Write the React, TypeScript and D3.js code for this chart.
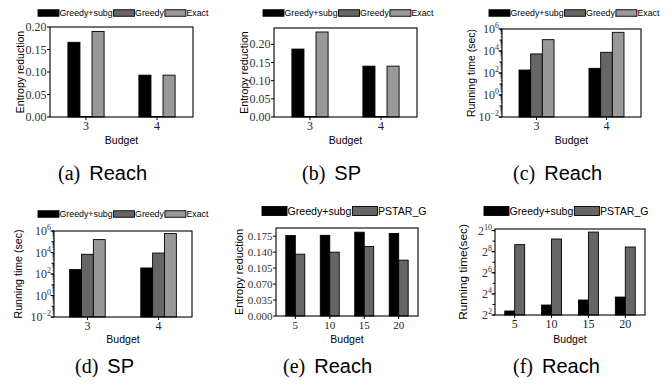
import React, { useEffect, useRef } from 'react';
import * as d3 from 'd3';

// categories
const budgetsSmall = ['3', '4'];
const budgetsLarge = ['5', '10', '15', '20'];

// (a) Reach - entropy reduction
const reachEntGreedySubg = [0.166, 0.093];
const reachEntGreedy = [0, 0];
const reachEntExact = [0.19, 0.093];

// (b) SP - entropy reduction
const spEntGreedySubg = [0.187, 0.14];
const spEntGreedy = [0, 0];
const spEntExact = [0.234, 0.14];

// (c) Reach - running time (sec)
const reachTimeGreedySubg = [186, 265];
const reachTimeGreedy = [5400, 7600];
const reachTimeExact = [107000, 500000];

// (d) SP - running time (sec)
const spTimeGreedySubg = [257, 363];
const spTimeGreedy = [6800, 8900];
const spTimeExact = [158000, 575000];

// (e) Reach - entropy reduction vs PSTAR_G
const pstarEntGreedySubg = [0.1766, 0.177, 0.1838, 0.181];
const pstarEntPstar = [0.1356, 0.14, 0.1525, 0.1225];

// (f) Reach - running time vs PSTAR_G
const pstarTimeGreedySubg = [5.2, 7.7, 10.7, 13];
const pstarTimePstar = [407, 588, 929, 348];

const names3 = ['Greedy+subg', 'Greedy', 'Exact'];
const names2 = ['Greedy+subg', 'PSTAR_G'];
const colors3 = ['#000000', '#666666', '#999999'];
const colors2 = ['#000000', '#666666'];

const linTicksTop = [0, 0.05, 0.1, 0.15, 0.2];
const linTicksE = [0, 0.035, 0.07, 0.105, 0.14, 0.175];
const logTicks10 = [-2, 0, 2, 4, 6];
const logTicks2 = [2, 4, 6, 8, 10];

const SANS = '"Liberation Sans", Arial, sans-serif';
const SERIF = '"Liberation Serif", "Times New Roman", serif';

type Panel = {
  box: [number, number, number, number];
  cats: string[];
  series: number[][];
  names: string[];
  colors: string[];
  yType: 'linear' | 'log10' | 'log2';
  yDomain: [number, number];
  yTicks: number[];
  yFmt?: string;
  ylabel: string;
  ylabelX: number;
  ylabelFs: number;
  tickFs: number;
  pad: number;
  groupFrac: number;
  legend: { x: number; y: number; w: number; h: number; fs: number };
  caption: { x: number; y: number; tag: string; name: string };
  budgetDy: number;
};

const panels: Panel[] = [
  {
    box: [50, 27, 193, 117], cats: budgetsSmall,
    series: [reachEntGreedySubg, reachEntGreedy, reachEntExact], names: names3, colors: colors3,
    yType: 'linear', yDomain: [0, 0.2], yTicks: linTicksTop, yFmt: '.2f',
    ylabel: 'Entropy reduction', ylabelX: 20, ylabelFs: 10.5, tickFs: 12,
    pad: 0.507, groupFrac: 0.51,
    legend: { x: 38, y: 13, w: 21, h: 6.5, fs: 8.8 },
    caption: { x: 58, y: 180, tag: '(a)', name: 'Reach' }, budgetDy: 27,
  },
  {
    box: [274, 28, 417, 117], cats: budgetsSmall,
    series: [spEntGreedySubg, spEntGreedy, spEntExact], names: names3, colors: colors3,
    yType: 'linear', yDomain: [0, 0.245], yTicks: linTicksTop, yFmt: '.2f',
    ylabel: 'Entropy reduction', ylabelX: 244, ylabelFs: 10.5, tickFs: 12,
    pad: 0.507, groupFrac: 0.51,
    legend: { x: 263, y: 13, w: 21, h: 6.5, fs: 8.8 },
    caption: { x: 302, y: 180, tag: '(b)', name: 'SP' }, budgetDy: 27,
  },
  {
    box: [502, 29, 641, 117], cats: budgetsSmall,
    series: [reachTimeGreedySubg, reachTimeGreedy, reachTimeExact], names: names3, colors: colors3,
    yType: 'log10', yDomain: [1e-2, 1e6], yTicks: logTicks10,
    ylabel: 'Running time (sec)', ylabelX: 471, ylabelFs: 10.5, tickFs: 12,
    pad: 0.493, groupFrac: 0.5,
    legend: { x: 489, y: 13, w: 21, h: 6.5, fs: 8.8 },
    caption: { x: 513, y: 180, tag: '(c)', name: 'Reach' }, budgetDy: 27,
  },
  {
    box: [54, 231, 192, 317], cats: budgetsSmall,
    series: [spTimeGreedySubg, spTimeGreedy, spTimeExact], names: names3, colors: colors3,
    yType: 'log10', yDomain: [1e-2, 1e6], yTicks: logTicks10,
    ylabel: 'Running time (sec)', ylabelX: 18, ylabelFs: 10.6, tickFs: 12,
    pad: 0.47, groupFrac: 0.5,
    legend: { x: 38, y: 214, w: 21, h: 6.5, fs: 8.8 },
    caption: { x: 75, y: 373, tag: '(d)', name: 'SP' }, budgetDy: 26,
  },
  {
    box: [276, 228, 418, 316], cats: budgetsLarge,
    series: [pstarEntGreedySubg, pstarEntPstar], names: names2, colors: colors2,
    yType: 'linear', yDomain: [0, 0.193], yTicks: linTicksE, yFmt: '.3f',
    ylabel: 'Entropy reduction', ylabelX: 239, ylabelFs: 11, tickFs: 11,
    pad: 0.56, groupFrac: 0.55,
    legend: { x: 262, y: 211, w: 25, h: 9, fs: 10.6 },
    caption: { x: 283, y: 373, tag: '(e)', name: 'Reach' }, budgetDy: 27,
  },
  {
    box: [495, 229, 645, 315], cats: budgetsLarge,
    series: [pstarTimeGreedySubg, pstarTimePstar], names: names2, colors: colors2,
    yType: 'log2', yDomain: [4, Math.pow(2, 10.15)], yTicks: logTicks2,
    ylabel: 'Running time(sec)', ylabelX: 463, ylabelFs: 11.8, tickFs: 12,
    pad: 0.535, groupFrac: 0.54,
    legend: { x: 484, y: 211, w: 25, h: 9, fs: 10.6 },
    caption: { x: 513, y: 373, tag: '(f)', name: 'Reach' }, budgetDy: 28,
  },
];

function drawPanel(root: d3.Selection<SVGSVGElement, unknown, null, undefined>, p: Panel) {
  const g = root.append('g');
  const [x0, y0, x1, y1] = p.box;

  const x = d3.scalePoint<string>().domain(p.cats).range([x0, x1]).padding(p.pad);
  const y: any = p.yType === 'linear'
    ? d3.scaleLinear().domain(p.yDomain).range([y1, y0])
    : d3.scaleLog().base(p.yType === 'log2' ? 2 : 10).domain(p.yDomain).range([y1, y0]);

  const step = x.step();
  const groupW = step * p.groupFrac;
  const bw = groupW / p.series.length;

  // bars
  p.series.forEach((vals, si) => {
    g.append('g')
      .selectAll('rect')
      .data(vals)
      .enter()
      .append('rect')
      .attr('x', (_d, i) => x(p.cats[i])! - groupW / 2 + si * bw)
      .attr('y', d => (d > 0 ? y(d) : y1 - 0.5))
      .attr('width', bw)
      .attr('height', d => (d > 0 ? y1 - y(d) : 0.5))
      .attr('fill', p.colors[si])
      .attr('stroke', '#000')
      .attr('stroke-width', 0.9);
  });

  // frame
  g.append('rect')
    .attr('x', x0).attr('y', y0)
    .attr('width', x1 - x0).attr('height', y1 - y0)
    .attr('fill', 'none').attr('stroke', '#000').attr('stroke-width', 1.1);

  // y ticks
  const yt = g.append('g');
  if (p.yType === 'linear') {
    const fmt = d3.format(p.yFmt!);
    p.yTicks.forEach(t => {
      const yy = y(t);
      yt.append('line').attr('x1', x0 - 3).attr('x2', x0).attr('y1', yy).attr('y2', yy).attr('stroke', '#000');
      yt.append('text').attr('x', x0 - 3.5).attr('y', yy + 4)
        .attr('text-anchor', 'end').attr('font-family', SERIF).attr('font-size', p.tickFs).attr('fill', '#333')
        .text(fmt(t));
    });
  } else {
    const base = p.yType === 'log2' ? 2 : 10;
    const [lo, hi] = [Math.log(p.yDomain[0]) / Math.log(base), Math.log(p.yDomain[1]) / Math.log(base)];
    // minor ticks
    for (let e = Math.floor(lo); e <= Math.ceil(hi); e++) {
      const v = Math.pow(base, e);
      if (v >= p.yDomain[0] && v <= p.yDomain[1] * 1.0001) {
        yt.append('line').attr('x1', x0 - 2.5).attr('x2', x0).attr('y1', y(v)).attr('y2', y(v)).attr('stroke', '#000');
      }
      if (base === 10) {
        for (let m = 2; m < 10; m++) {
          const mv = m * v;
          if (mv > p.yDomain[0] && mv < p.yDomain[1]) {
            yt.append('line').attr('x1', x0 - 1.5).attr('x2', x0).attr('y1', y(mv)).attr('y2', y(mv))
              .attr('stroke', '#000').attr('stroke-width', 0.6);
          }
        }
      }
    }
    p.yTicks.forEach(e => {
      const yy = y(Math.pow(base, e));
      yt.append('line').attr('x1', x0 - 3.5).attr('x2', x0).attr('y1', yy).attr('y2', yy).attr('stroke', '#000');
      const txt = yt.append('text').attr('x', x0 - 3).attr('y', yy + 4)
        .attr('text-anchor', 'end').attr('font-family', SERIF).attr('font-size', p.tickFs).attr('fill', '#333');
      txt.append('tspan').text(String(base));
      txt.append('tspan').attr('dy', -5).attr('font-size', p.tickFs * 0.66)
        .text(e < 0 ? '\u2212' + Math.abs(e) : String(e));
    });
  }

  // x ticks
  p.cats.forEach(c => {
    const xx = x(c)!;
    g.append('line').attr('x1', xx).attr('x2', xx).attr('y1', y1).attr('y2', y1 + 3).attr('stroke', '#000');
    g.append('text').attr('x', xx).attr('y', y1 + 12.5)
      .attr('text-anchor', 'middle').attr('font-family', SERIF).attr('font-size', p.tickFs).attr('fill', '#222')
      .text(c);
  });

  // axis labels
  g.append('text').attr('x', (x0 + x1) / 2).attr('y', y1 + p.budgetDy)
    .attr('text-anchor', 'middle').attr('font-family', SANS).attr('font-size', 10.5)
    .text('Budget');
  g.append('text')
    .attr('transform', `translate(${p.ylabelX},${(y0 + y1) / 2}) rotate(-90)`)
    .attr('text-anchor', 'middle').attr('dominant-baseline', 'central')
    .attr('font-family', SANS).attr('font-size', p.ylabelFs)
    .text(p.ylabel);

  // legend
  const lg = g.append('g');
  let cx = p.legend.x;
  p.names.forEach((n, i) => {
    lg.append('rect')
      .attr('x', cx).attr('y', p.legend.y - p.legend.h / 2)
      .attr('width', p.legend.w).attr('height', p.legend.h)
      .attr('fill', p.colors[i]).attr('stroke', '#000').attr('stroke-width', 0.9);
    cx += p.legend.w + 0.5;
    const t = lg.append('text').attr('x', cx).attr('y', p.legend.y + p.legend.fs * 0.36)
      .attr('font-family', SANS).attr('font-size', p.legend.fs).text(n);
    const w = (t.node() as SVGTextElement).getComputedTextLength();
    cx += w + 1;
  });

  // caption
  const cap = g.append('text').attr('x', p.caption.x).attr('y', p.caption.y);
  cap.append('tspan').attr('font-family', SERIF).attr('font-size', 20).text(p.caption.tag);
  cap.append('tspan').attr('dx', 9).attr('font-family', SANS).attr('font-size', 20).text(p.caption.name);
}

const App: React.FC = () => {
  const ref = useRef<SVGSVGElement | null>(null);

  useEffect(() => {
    if (!ref.current) return;
    const svg = d3.select(ref.current);
    svg.selectAll('*').remove();
    svg.append('rect').attr('width', 672).attr('height', 385).attr('fill', '#fff');
    panels.forEach(p => drawPanel(svg, p));
  }, []);

  return (
    <svg
      ref={ref}
      width={672}
      height={385}
      style={{ position: 'absolute', left: 0, top: 0, display: 'block' }}
    />
  );
};

export default App;
